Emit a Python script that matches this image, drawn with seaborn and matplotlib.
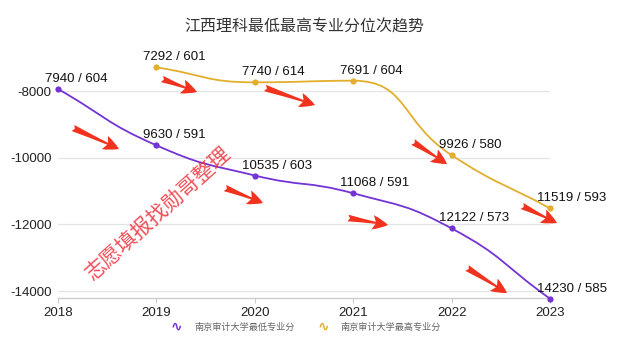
import numpy as np
import pandas as pd
import matplotlib
matplotlib.use("Agg")
import matplotlib.pyplot as plt
import seaborn as sns
from matplotlib.path import Path
from matplotlib.patches import PathPatch, FancyArrowPatch

# ---- data ----
years = [2018, 2019, 2020, 2021, 2022, 2023]
low_rank = [7940, 9630, 10535, 11068, 12122, 14230]
low_score = [604, 591, 603, 591, 573, 585]
high_years = [2019, 2020, 2021, 2022, 2023]
high_rank = [7292, 7740, 7691, 9926, 11519]
high_score = [601, 614, 604, 580, 593]
y_ticks = [-8000, -10000, -12000, -14000]
title = "江西理科最低最高专业分位次趋势"
low_name = "南京审计大学最低专业分"
high_name = "南京审计大学最高专业分"
watermark = "志愿填报找勋哥整理"

PURPLE = "#7433d4"
GOLD = "#e2ae2c"
W, H = 640, 353

sns.set_theme(style="white")
plt.rcParams["font.family"] = ["Liberation Sans", "Noto Sans CJK SC", "DejaVu Sans"]
CJK = ["Noto Sans CJK SC", "DejaVu Sans"]

df_low = pd.DataFrame({"year": years, "val": [-r for r in low_rank],
                       "label": [f"{r} / {s}" for r, s in zip(low_rank, low_score)]})
df_high = pd.DataFrame({"year": high_years, "val": [-r for r in high_rank],
                        "label": [f"{r} / {s}" for r, s in zip(high_rank, high_score)]})

fig = plt.figure(figsize=(W / 100, H / 100), dpi=100)
ax = fig.add_axes([58 / W, 55 / H, 492 / W, 238 / H])
ax.set_xlim(2018, 2023)
ax.set_ylim(-14210, -7070)


def smooth_path(ax, xs, ys, smooth=0.5):
    """Cubic Bezier path through the points (echarts-like smoothing with constraint)."""
    pts = ax.transData.transform(np.column_stack([xs, ys]).astype(float))
    n = len(pts)
    cps = []
    for i in range(n):
        p = pts[i]
        if i == 0:
            nxt = pts[1]
            cps.append((p.copy(), p + (nxt - p) * smooth))
            continue
        if i == n - 1:
            prev = pts[i - 1]
            cps.append((p - (p - prev) * smooth, p.copy()))
            continue
        prev, nxt = pts[i - 1], pts[i + 1]
        v = nxt - prev
        lp = np.hypot(*(p - prev))
        ln = np.hypot(*(nxt - p))
        rn = ln / (ln + lp)
        c1 = p + v * smooth * rn
        c1 = np.minimum(c1, np.maximum(nxt, p))
        c1 = np.maximum(c1, np.minimum(nxt, p))
        vv = c1 - p
        c0 = p - vv * lp / ln
        c0 = np.minimum(c0, np.maximum(prev, p))
        c0 = np.maximum(c0, np.minimum(prev, p))
        vv = p - c0
        c1 = p + vv * ln / lp
        cps.append((c0, c1))
    verts = [pts[0]]
    codes = [Path.MOVETO]
    for i in range(n - 1):
        verts += [cps[i][1], cps[i + 1][0], pts[i + 1]]
        codes += [Path.CURVE4] * 3
    return Path(ax.transData.inverted().transform(np.array(verts)), codes)


for df, col in [(df_low, PURPLE), (df_high, GOLD)]:
    path = smooth_path(ax, df["year"], df["val"])
    ax.add_patch(PathPatch(path, facecolor="none", edgecolor=col, lw=1.3, zorder=3))
    sns.scatterplot(data=df, x="year", y="val", ax=ax, color=col, s=20,
                    edgecolor=col, linewidth=0, zorder=4, legend=False, clip_on=False)
    for _, r in df.iterrows():
        ax.annotate(r["label"], (r["year"], r["val"]), xytext=(-13, 4),
                    textcoords="offset pixels", ha="left", va="bottom",
                    fontsize=9.5, color="#111111", zorder=5, annotation_clip=False)

ax.set_xticks(years)
ax.set_xticklabels([str(y) for y in years])
ax.set_yticks(y_ticks)
ax.set_yticklabels([str(v) for v in y_ticks])
ax.set_xlabel("")
ax.set_ylabel("")
ax.grid(axis="y", color="#e4e4e4", lw=0.9)
ax.grid(axis="x", visible=False)
for s in ["top", "right", "left"]:
    ax.spines[s].set_visible(False)
ax.spines["bottom"].set_color("#cccccc")
ax.spines["bottom"].set_linewidth(1.0)
ax.tick_params(axis="x", bottom=True, length=3.5, width=0.8, color="#cccccc",
               pad=3, labelsize=9.5, labelcolor="#222222")
ax.tick_params(axis="y", left=False, length=0, pad=4.5, labelsize=9.5, labelcolor="#222222")

# title
fig.text(304 / W, 1 - 27 / H, title, ha="center", va="center", fontsize=11.5,
         color="#333333", family=CJK)

# legend
for sx, tx, col, name in [(176, 194, PURPLE, low_name), (323, 340, GOLD, high_name)]:
    fig.text(sx / W, 1 - 327 / H, "∿", ha="center", va="center", fontsize=10,
             color=col, family=["DejaVu Sans"], fontweight="bold")
    fig.text(tx / W, 1 - 327 / H, name, ha="left", va="center", fontsize=6.6,
             color="#666666", family=CJK)

# watermark
fig.text(158 / W, 1 - 213 / H, watermark, ha="center", va="center", rotation=42,
         rotation_mode="anchor", fontsize=15, color="#f0303a", family=CJK,
         fontweight="light", alpha=0.85)

# red arrows (decoration)
arrows = [((162, 79), (197, 92)), ((265, 88), (315, 105)), ((73, 128), (119, 149)),
          ((225, 188), (263, 203)), ((348, 218), (388, 225)), ((413, 142), (447, 164)),
          ((522, 206), (557, 223)), ((467, 268), (507, 293))]
for (x0, y0), (x1, y1) in arrows:
    fig.add_artist(FancyArrowPatch((x0 / W, 1 - y0 / H), (x1 / W, 1 - y1 / H),
                                   transform=fig.transFigure,
                                   arrowstyle="fancy,head_length=0.7,head_width=0.65,tail_width=0.3",
                                   mutation_scale=16, color="#f0321e", lw=0,
                                   shrinkA=0, shrinkB=0))

fig.savefig("out.png", dpi=100)
